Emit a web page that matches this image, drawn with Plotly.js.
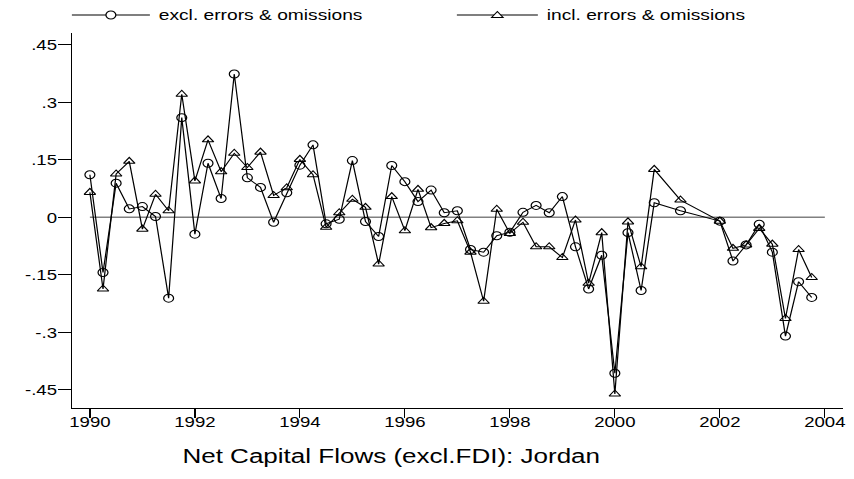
<!DOCTYPE html>
<html>
<head>
<meta charset="utf-8">
<script src="https://cdn.plot.ly/plotly-3.0.1.min.js"></script>
<style>
  html, body { margin: 0; padding: 0; background: #fff; overflow: hidden; }
  #wrap { width: 854px; height: 479px; overflow: hidden; }
  /* the graph is laid out narrower and widened horizontally, giving the wide lettering and oval circles */
  #chart { width: 689px; height: 479px; transform: scaleX(1.23948); transform-origin: 0 0; }
</style>
</head>
<body>
<div id="wrap"><div id="chart"></div></div>
<script>
// Quarterly observations (decimal years); 2001q1, 2001q3 and 2001q4 are missing
const quarters = [
  1990.00, 1990.25, 1990.50, 1990.75, 1991.00, 1991.25, 1991.50, 1991.75,
  1992.00, 1992.25, 1992.50, 1992.75, 1993.00, 1993.25, 1993.50, 1993.75,
  1994.00, 1994.25, 1994.50, 1994.75, 1995.00, 1995.25, 1995.50, 1995.75,
  1996.00, 1996.25, 1996.50, 1996.75, 1997.00, 1997.25, 1997.50, 1997.75,
  1998.00, 1998.25, 1998.50, 1998.75, 1999.00, 1999.25, 1999.50, 1999.75,
  2000.00, 2000.25, 2000.50, 2000.75, 2001.00, 2001.25, 2001.50, 2001.75,
  2002.00, 2002.25, 2002.50, 2002.75, 2003.00, 2003.25, 2003.50, 2003.75
];

// Net capital flows excluding FDI, excluding errors & omissions
const exclEO = [
   0.111, -0.144,  0.089,  0.022,  0.028,  0.002, -0.211,  0.260,
  -0.044,  0.141,  0.049,  0.374,  0.103,  0.078, -0.013,  0.064,
   0.136,  0.189, -0.017, -0.005,  0.148, -0.011, -0.050,  0.135,
   0.093,  0.041,  0.071,  0.012,  0.017, -0.084, -0.091, -0.048,
  -0.039,  0.013,  0.031,  0.012,  0.054, -0.077, -0.187, -0.099,
  -0.407, -0.040, -0.191,  0.038,  null,   0.017,  null,   null,
  -0.010, -0.114, -0.072, -0.018, -0.091, -0.310, -0.168, -0.209
];

// Net capital flows excluding FDI, including errors & omissions
const inclEO = [
   0.065, -0.187,  0.113,  0.146, -0.031,  0.060,  0.017,  0.321,
   0.095,  0.202,  0.119,  0.167,  0.130,  0.170,  0.057,  0.077,
   0.151,  0.111, -0.026,  0.012,  0.047,  0.026, -0.122,  0.054,
  -0.035,  0.073, -0.027, -0.016, -0.009, -0.091, -0.219,  0.021,
  -0.042, -0.013, -0.077, -0.077, -0.105, -0.007, -0.172, -0.040,
  -0.461, -0.012, -0.129,  0.125,  null,   0.045,  null,   null,
  -0.010, -0.081, -0.072, -0.029, -0.070, -0.264, -0.084, -0.157
];

const seriesNames = ['excl. errors & omissions', 'incl. errors & omissions'];
const chartTitle = 'Net Capital Flows (excl.FDI): Jordan';

const xTicks = [1990, 1992, 1994, 1996, 1998, 2000, 2002, 2004];
const yTicks = [-0.45, -0.3, -0.15, 0, 0.15, 0.3, 0.45];
const yTickText = ['-.45', '-.3', '-.15', '0', '.15', '.3', '.45'];

// Page geometry (screen pixels of the widened page)
const S = 854 / 689;
const PLOT = { left: 72, right: 843, top: 33, bottom: 408 };
const L = PLOT.left / S, R = PLOT.right / S;
const px = x => (x / S - L) / (R - L);
const py = y => (PLOT.bottom - y) / (PLOT.bottom - PLOT.top);

const FONT = 'Liberation Sans, Arial, Helvetica, sans-serif';

const lineStyle = { color: '#000', width: 1 };

const traces = [
  {
    x: quarters, y: exclEO, name: seriesNames[0], type: 'scatter', mode: 'lines+markers',
    connectgaps: true, cliponaxis: false,
    line: lineStyle,
    marker: { symbol: 'circle-open', size: 8, color: '#000', line: { width: 1, color: '#000' } }
  },
  {
    x: quarters, y: inclEO, name: seriesNames[1], type: 'scatter', mode: 'lines+markers',
    connectgaps: true, cliponaxis: false,
    line: lineStyle,
    marker: { symbol: 'triangle-up-open', size: 8, color: '#000', line: { width: 1, color: '#000' } }
  }
];

// Legend keys: a long rule with the series marker in its middle
function legendKey(x0, x1, yc, marker) {
  const xm = (x0 + x1) / 2;
  const out = [{
    type: 'line', xref: 'paper', yref: 'paper',
    x0: px(x0), x1: px(x1), y0: py(yc), y1: py(yc),
    line: { color: '#000', width: 1 }
  }];
  if (marker === 'circle') {
    out.push({
      type: 'circle', xref: 'paper', yref: 'paper',
      xsizemode: 'pixel', ysizemode: 'pixel', xanchor: px(xm), yanchor: py(yc),
      x0: -4, x1: 4, y0: -4, y1: 4,
      fillcolor: '#fff', line: { color: '#000', width: 1 }
    });
  } else {
    out.push({
      type: 'path', xref: 'paper', yref: 'paper',
      xsizemode: 'pixel', ysizemode: 'pixel', xanchor: px(xm), yanchor: py(yc),
      path: 'M-4.62,-2.5 L4.62,-2.5 L0,3.5 Z',
      fillcolor: '#fff', line: { color: '#000', width: 1 }
    });
  }
  return out;
}

const shapes = [
  {
    type: 'line', xref: 'x', yref: 'y', layer: 'below',
    x0: xTicks[0], x1: xTicks[xTicks.length - 1], y0: 0, y1: 0,
    line: { color: '#808080', width: 1.4 }
  },
  ...legendKey(72, 150, 15, 'circle'),
  ...legendKey(457, 538, 15, 'triangle')
];

const annotations = [
  { text: seriesNames[0], xref: 'paper', yref: 'paper', x: px(156), y: py(14),
    xanchor: 'left', yanchor: 'middle', showarrow: false,
    font: { family: FONT, size: 15.5, color: '#000' } },
  { text: seriesNames[1], xref: 'paper', yref: 'paper', x: px(544), y: py(14),
    xanchor: 'left', yanchor: 'middle', showarrow: false,
    font: { family: FONT, size: 15.5, color: '#000' } },
  { text: chartTitle, xref: 'paper', yref: 'paper', x: px(391.5), y: py(455),
    xanchor: 'center', yanchor: 'middle', showarrow: false,
    font: { family: FONT, size: 21, color: '#000' } }
];

const layout = {
  width: 689, height: 479,
  margin: { l: L, r: 689 - R, t: PLOT.top, b: 479 - PLOT.bottom, pad: 0 },
  paper_bgcolor: '#fff', plot_bgcolor: '#fff',
  showlegend: false,
  font: { family: FONT, color: '#000' },
  xaxis: {
    range: [1990 + (PLOT.left - 90) / 52.5, 1990 + (PLOT.right - 90) / 52.5],
    tickmode: 'array', tickvals: xTicks, ticktext: xTicks.map(String),
    ticks: 'outside', ticklen: 9, tickwidth: 1, tickcolor: '#000',
    ticklabelstandoff: -9,
    showline: true, linecolor: '#000', linewidth: 1,
    showgrid: false, zeroline: false,
    tickfont: { family: FONT, size: 15, color: '#000' }
  },
  yaxis: {
    range: [(217.3 - PLOT.bottom) / 383.3, (217.3 - PLOT.top) / 383.3],
    tickmode: 'array', tickvals: yTicks, ticktext: yTickText,
    ticks: 'outside', ticklen: 10, tickwidth: 1, tickcolor: '#000',
    ticklabelstandoff: -2,
    showline: true, linecolor: '#000', linewidth: 1,
    showgrid: false, zeroline: false,
    tickfont: { family: FONT, size: 15, color: '#000' }
  },
  shapes: shapes,
  annotations: annotations
};

Plotly.newPlot('chart', traces, layout, { displayModeBar: false, staticPlot: true });
</script>
</body>
</html>
